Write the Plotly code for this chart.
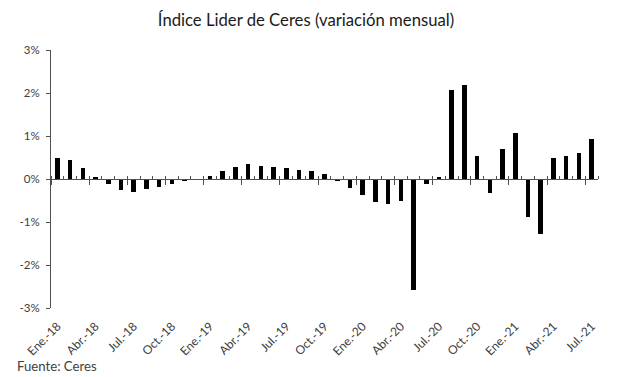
import plotly.graph_objects as go

months = ["Ene", "Feb", "Mar", "Abr", "May", "Jun", "Jul", "Ago", "Sep", "Oct", "Nov", "Dic"]
categories = [f"{m}.-{y}" for y in ["18", "19", "20", "21"] for m in months][:43]

values = [
    0.50, 0.44, 0.26, 0.04, -0.12, -0.25, -0.30, -0.24, -0.18, -0.12, -0.05, -0.01,
    0.08, 0.19, 0.29, 0.34, 0.31, 0.28, 0.26, 0.22, 0.18, 0.11, -0.05, -0.22,
    -0.38, -0.53, -0.57, -0.50, -2.57, -0.11, 0.05, 2.08, 2.19, 0.54, -0.33, 0.69,
    1.08, -0.89, -1.29, 0.49, 0.53, 0.60, 0.92,
]

label_idx = list(range(0, 43, 3))
tick_labels = [categories[i] for i in label_idx]
y_ticks = [-3, -2, -1, 0, 1, 2, 3]
y_tick_text = [f"{v}%" for v in y_ticks]

FONT = "Lato"
TXT = "#404040"
AX = "#505050"

xpos = list(range(len(categories)))

fig = go.Figure()
fig.add_trace(go.Bar(
    x=xpos, y=values, width=0.36,
    marker=dict(color="#000000", line=dict(width=0)),
    hovertext=categories, showlegend=False,
))
# helper trace to carry the axis drawn at y=0
fig.add_trace(go.Scatter(
    x=[-0.5, len(categories) - 0.5], y=[0, 0], xaxis="x2", yaxis="y",
    mode="lines", line=dict(width=0, color="rgba(0,0,0,0)"),
    hoverinfo="skip", showlegend=False,
))

# page body has an 8px margin, so the figure is sized/offset accordingly
W, H = 609, 369
L, R, T, B = 43, 19, 42, 69
PW, PH = W - L - R, H - T - B

fig.update_layout(
    width=W, height=H,
    margin=dict(l=L, r=R, t=T, b=B),
    paper_bgcolor="white", plot_bgcolor="white",
    font=dict(family=FONT, color=TXT, size=11),
    title=dict(
        text="Índice Lider de Ceres (variación mensual)",
        x=(306 - 8) / W, xref="container", xanchor="center",
        y=1 - (20 - 8) / H, yref="container", yanchor="middle",
        font=dict(family=FONT, size=16.7, color="#1a1a1a"),
    ),
    xaxis=dict(
        range=[-0.5, len(categories) - 0.5],
        tickmode="array", tickvals=label_idx, ticktext=tick_labels,
        tickangle=-45, ticks="", showline=False, showgrid=False, zeroline=False,
        tickfont=dict(size=12, color=TXT), ticklabelstandoff=8,
    ),
    xaxis2=dict(
        overlaying="x", anchor="free", position=0.5,
        range=[-0.5, len(categories) - 0.5],
        showticklabels=False, showgrid=False, zeroline=False,
        showline=True, linecolor=AX, linewidth=1,
        tickmode="linear", tick0=-0.5, dtick=3,
        ticks="outside", ticklen=5, tickcolor=AX, tickwidth=1,
        minor=dict(tickmode="linear", tick0=-0.5, dtick=1, ticks="inside",
                   ticklen=3, tickcolor=AX, tickwidth=1),
    ),
    yaxis=dict(
        range=[-3, 3], domain=[0, 1],
        tickmode="array", tickvals=y_ticks, ticktext=y_tick_text,
        ticks="outside", ticklen=4, tickcolor=AX,
        showline=True, linecolor=AX, linewidth=1,
        showgrid=False, zeroline=False,
        tickfont=dict(size=11.5, color=TXT), ticklabelstandoff=4,
    ),
    annotations=[dict(
        text="Fuente: Ceres", xref="paper", yref="paper",
        x=(15 - 8 - L) / PW, y=-(366 - 8 - (T + PH)) / PH,
        xanchor="left", yanchor="middle",
        showarrow=False, font=dict(family=FONT, size=13.2, color=TXT),
    )],
    bargap=0,
)

fig.write_html("out.html")
